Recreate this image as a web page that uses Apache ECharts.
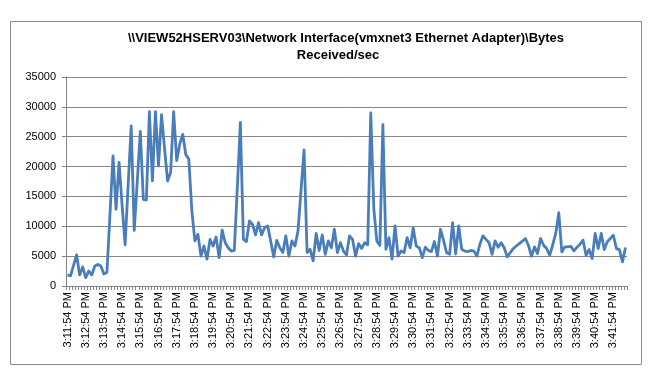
<!DOCTYPE html>
<html>
<head>
<meta charset="utf-8">
<script src="https://cdn.jsdelivr.net/npm/echarts@6/dist/echarts.min.js"></script>
<style>
html,body{margin:0;padding:0;background:#fff;}
#chart{width:656px;height:379px;}
</style>
</head>
<body>
<div id="chart"></div>
<script>
// Title lines
var titleLine1 = "\\\\VIEW52HSERV03\\Network Interface(vmxnet3 Ethernet Adapter)\\Bytes";
var titleLine2 = "Received/sec";

// Sampling: one sample every 10 seconds starting at 3:11:54 PM
var startTime = {h: 15, m: 11, s: 54};
var sampleSeconds = 10;

// Bytes Received/sec values
var bytesReceived = [
  1850, 1700, 3500, 5200, 1850, 3200, 1400, 2500, 1850, 3350, 3600, 3350, 2000, 2300,
  12000, 21800, 12850, 20700, 13500, 6900, 17000, 26800, 9300, 17500, 25900, 14500, 14400,
  29200, 17600, 29200, 20100, 28700, 23000, 17600, 19000, 29200, 21000,
  23750, 25400, 22000, 21250, 12600, 7550, 8650, 5000, 6700, 4500,
  7800, 6700, 8200, 4750, 9350, 7250, 6400, 5850, 5950, 16500,
  27400, 7800, 7450, 10900, 10300, 8550, 10600, 8550, 9800, 10050,
  7550, 4860, 7650, 6400, 5600, 8400,
  5000, 7550, 6700, 9200, 16000, 22800, 5600, 6150, 4200, 8800,
  5950, 8550, 5300, 7550, 6400, 9500, 5600, 7250, 5850, 5200,
  8400, 7800, 5000, 7100, 6300, 7250, 6900, 29000, 13000, 7500,
  6800, 27000, 6150, 8100, 4500, 10050, 5000,
  5850, 5600, 8100, 6400, 9700, 6700, 6400, 4750, 6500, 5950,
  5750, 7450, 5000, 9500, 7650, 5600, 5300, 10600, 5400, 10050,
  6150, 5850, 5750, 5950, 5850, 5000, 7000, 8400, 7800, 7250,
  5300, 7550, 6500, 7250, 6400, 4870,
  5600, 6270, 6700, 7100, 7500, 7950, 6800, 4980, 6550, 5430,
  7950, 6830, 6270, 5150, 6900, 8800, 12270, 5700, 6550, 6550,
  6650, 5880, 6500, 7000, 7670, 5150, 6100, 4590, 8800, 6270,
  8800, 6100, 7400, 7950, 8500, 6270, 6100, 4030, 6440
];

// Y axis
var yMin = 0, yMax = 35000, yStep = 5000;

// Category labels (time stamps)
function fmt(total) {
  var h = Math.floor(total / 3600) % 24, m = Math.floor(total / 60) % 60, s = total % 60;
  var ampm = h >= 12 ? "PM" : "AM";
  var hh = h % 12; if (hh === 0) hh = 12;
  return hh + ":" + (m < 10 ? "0" : "") + m + ":" + (s < 10 ? "0" : "") + s + " " + ampm;
}
var categories = [];
var t0 = startTime.h * 3600 + startTime.m * 60 + startTime.s;
for (var i = 0; i < bytesReceived.length; i++) categories.push(fmt(t0 + i * sampleSeconds));

var chart = echarts.init(document.getElementById('chart'), null, {renderer: 'canvas'});
var gray = '#868686';
chart.setOption({
  backgroundColor: '#ffffff',
  animation: false,
  title: [
    {text: titleLine1, left: 341, top: 27, textAlign: 'center',
     textStyle: {fontFamily: 'Liberation Sans', fontWeight: 'bold', fontSize: 13, color: '#000'}},
    {text: titleLine2, left: 333, top: 44, textAlign: 'center',
     textStyle: {fontFamily: 'Liberation Sans', fontWeight: 'bold', fontSize: 13, color: '#000'}}
  ],
  graphic: [{
    type: 'rect', shape: {x: 10.5, y: 21.5, width: 631, height: 343},
    style: {fill: null, stroke: '#8c8c8c', lineWidth: 1}, silent: true, z: -1
  }],
  grid: {left: 66, right: 29, top: 77, bottom: 93, containLabel: false},
  xAxis: {
    type: 'category', data: categories, boundaryGap: true,
    axisLine: {show: true, lineStyle: {color: gray, width: 1}},
    axisTick: {show: true, interval: 0, length: 4, lineStyle: {color: gray}},
    axisLabel: {interval: 5, rotate: 90, margin: 6, fontFamily: 'Liberation Sans', fontSize: 11, color: '#000'},
    splitLine: {show: false}
  },
  yAxis: {
    type: 'value', min: yMin, max: yMax, interval: yStep,
    axisLine: {show: true, lineStyle: {color: gray, width: 1}},
    axisTick: {show: true, length: 4, lineStyle: {color: gray}},
    axisLabel: {margin: 10, fontFamily: 'Liberation Sans', fontSize: 11, color: '#000',
      formatter: function (v) { return String(v); }},
    splitLine: {show: true, lineStyle: {color: gray, width: 1}}
  },
  series: [{
    type: 'line', data: bytesReceived, showSymbol: false, symbol: 'none',
    lineStyle: {color: '#4a7ebb', width: 2.8, join: 'round'},
    itemStyle: {color: '#4a7ebb'}
  }]
});
</script>
</body>
</html>
